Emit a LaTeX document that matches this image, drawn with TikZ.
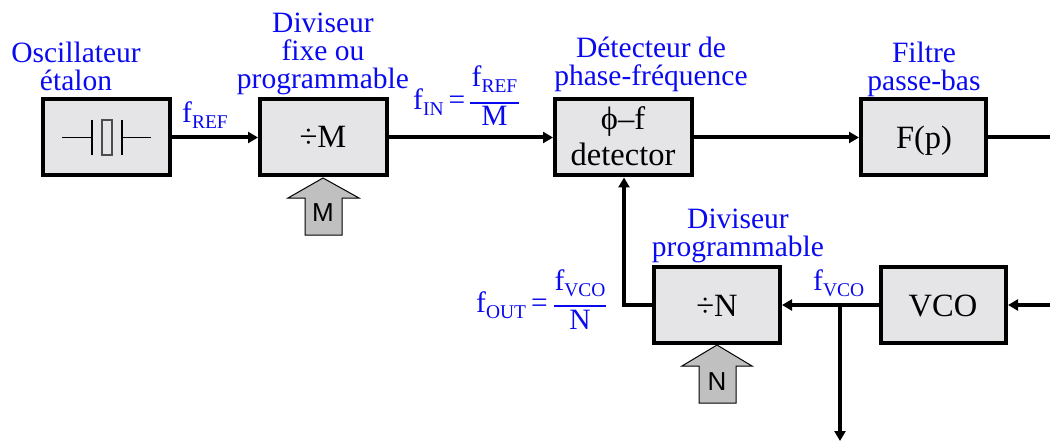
\documentclass[tikz,border=0pt]{standalone}
\usepackage{fontspec}
\setmainfont{Liberation Serif}
\newfontfamily\sansf{Liberation Sans}
\usetikzlibrary{arrows.meta}
\definecolor{boxfill}{HTML}{E5E4E7}
\definecolor{arrowfill}{HTML}{C0C0C0}
\definecolor{lblue}{HTML}{0A0AF0}
\newcommand{\sbb}[1]{\raisebox{-6pt}{\fontsize{19.5}{20}\selectfont #1}}
\tikzset{
  block/.style={draw=black,line width=4pt,fill=boxfill,minimum height=76pt,inner sep=0pt,anchor=north west},
  lbl/.style={text=lblue,font=\fontsize{29.5}{28}\selectfont,inner sep=0pt,anchor=base},
  mlbl/.style={lbl,align=center},
  blk/.style={text=black,font=\fontsize{32.5}{35}\selectfont,inner sep=0pt,anchor=base},
  prog/.style={draw=black,line width=1pt,fill=arrowfill},
  progtxt/.style={text=black,font=\sansf\fontsize{26}{28}\selectfont,inner sep=0pt,anchor=base},
  wire/.style={draw=black,line width=4pt},
  arr/.style={wire,-{Triangle[length=10pt,width=11pt]}},
  fbar/.style={draw=lblue,line width=2pt},
}
\begin{document}
\begin{tikzpicture}[x=1pt,y=-1pt]
\useasboundingbox (0,0) rectangle (1050,441);
% blocks
\node[block,minimum width=127pt] (osc) at (41,97.5) {};
\node[block,minimum width=127pt] (divm) at (258,97.5) {};
\node[block,minimum width=137pt] (det) at (553,97.5) {};
\node[block,minimum width=125pt] (filt) at (859,97.5) {};
\node[block,minimum width=126pt] (divn) at (652,265) {};
\node[block,minimum width=125pt] (vco) at (879,265) {};
% block texts
\node[blk] (tm) at (323,148) {÷M};
\node[blk] (tphi) at (623,130) {ϕ–f};
\node[blk] (tdet) at (623,165) {detector};
\node[blk] (tf) at (924,149) {F(p)};
\node[blk] (tn) at (717,316) {÷N};
\node[blk] (tv) at (943,316) {VCO};
% crystal
\coordinate (c1) at (62,137.5); \coordinate (c2) at (92,137.5);
\coordinate (c3) at (122,137.5); \coordinate (c4) at (151,137.5);
\draw[line width=1.5pt] (c1) -- (c2);
\draw[line width=1.5pt] (c3) -- (c4);
\draw[line width=1.5pt] (92,120) -- (92,155);
\draw[line width=1.5pt] (122,120) -- (122,155);
\draw[draw=black!70,line width=1.2pt,fill=boxfill] (102,120) rectangle (112,155);
% programming arrows
\draw[prog] (323,178) -- (359,198) -- (342,198) -- (342,235) -- (305,235) -- (305,198) -- (288,198) -- cycle;
\node[progtxt] (pm) at (323,221) {M};
\draw[prog] (717,345) -- (752,366) -- (736,366) -- (736,403) -- (699,403) -- (699,366) -- (682,366) -- cycle;
\node[progtxt] (pn) at (717,390) {N};
% connectors
\coordinate (rt) at (1050,137.5);
\coordinate (rb) at (1050,305);
\coordinate (tap) at (840,305);
\coordinate (out) at (840,441);
\coordinate (fb) at (624,305);
\draw[arr] (osc.east) -- (divm.west);
\draw[arr] (divm.east) -- (det.west);
\draw[arr] (det.east) -- (filt.west);
\draw[wire] (filt.east) -- (rt);
\draw[arr] (rb) -- (vco.east);
\draw[arr] (vco.west) -- (divn.east);
\draw[arr] (tap) -- (out);
\draw[arr] (divn.west) -- (fb) -- (det.south -| fb);
% blue labels
\node[mlbl] (l1) at (76,91) {Oscillateur\\étalon};
\node[mlbl] (l2) at (323,89) {Diviseur\\fixe ou\\programmable};
\node[mlbl] (l3) at (651,85.5) {Détecteur de\\phase-fréquence};
\node[mlbl] (l4) at (924,91) {Filtre\\passe-bas};
\node[mlbl] (l5) at (738,256.5) {Diviseur\\programmable};
\node[lbl] (fref) at (205,123) {f\sbb{REF}};
\node[lbl,anchor=base west] (fvco) at (813,290) {f\sbb{VCO}};
\node[lbl,anchor=base west] (fin) at (413,110) {f\sbb{IN}\,=};
\node[lbl] (finn) at (494.5,87) {f\sbb{REF}};
\node[lbl] (find) at (494.5,126) {M};
\coordinate (b1) at (470,103); \coordinate (b2) at (519,103);
\draw[fbar] (b1) -- (b2);
\node[lbl,anchor=base west] (fout) at (476,312) {f\sbb{OUT}\,=};
\node[lbl] (fon) at (580,290) {f\sbb{VCO}};
\node[lbl] (fod) at (580,329) {N};
\coordinate (b3) at (554,306); \coordinate (b4) at (606,306);
\draw[fbar] (b3) -- (b4);
\end{tikzpicture}
\end{document}
